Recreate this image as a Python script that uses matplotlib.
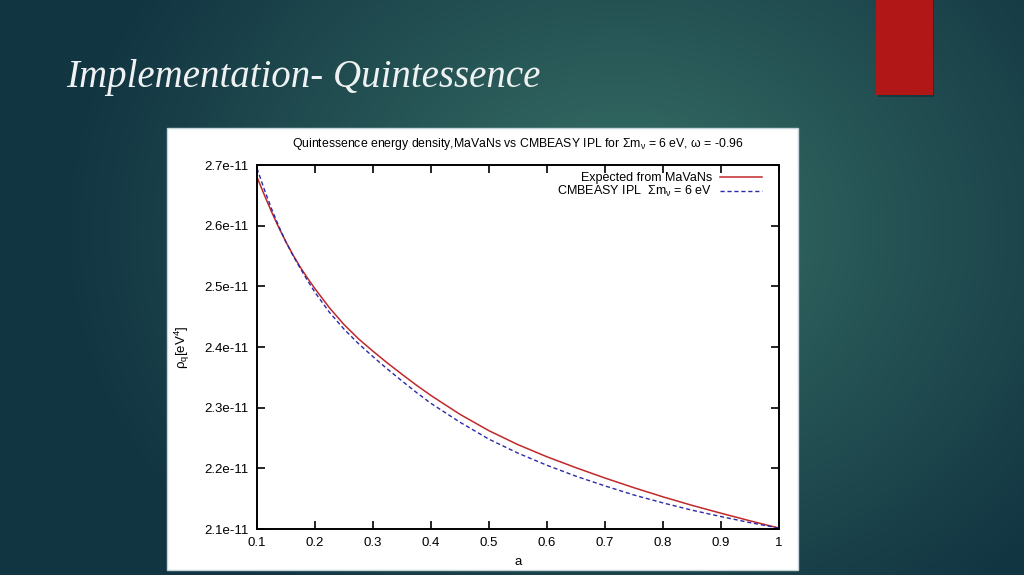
import numpy as np
import matplotlib
matplotlib.use("Agg")
import matplotlib.pyplot as plt
from matplotlib.patches import Rectangle
from matplotlib.ticker import FuncFormatter

plt.rcParams['font.family'] = ['Liberation Sans', 'DejaVu Sans']
plt.rcParams['mathtext.fontset'] = 'custom'
plt.rcParams['mathtext.rm'] = 'Liberation Sans'
plt.rcParams['mathtext.it'] = 'Liberation Sans'
plt.rcParams['mathtext.bf'] = 'Liberation Sans:bold'

# scale factor a and energy density (units of 1e-11 eV^4)
a = [0.1, 0.1125, 0.125, 0.1375, 0.15, 0.1625, 0.175, 0.1875, 0.2, 0.225, 0.25,
     0.275, 0.3, 0.325, 0.35, 0.375, 0.4, 0.45, 0.5, 0.55, 0.6, 0.65, 0.7,
     0.75, 0.8, 0.85, 0.9, 0.95, 1.0]
rho_mavans = [2.680, 2.651, 2.623, 2.597, 2.573, 2.551, 2.531, 2.513, 2.496, 2.4645, 2.437,
              2.4135, 2.393, 2.3735, 2.355, 2.337, 2.320, 2.289, 2.262, 2.239, 2.219, 2.201, 2.184,
              2.168, 2.153, 2.139, 2.126, 2.1135, 2.1015]
rho_cmbeasy = [2.6945, 2.660, 2.628, 2.599, 2.573, 2.550, 2.529, 2.509, 2.490, 2.457, 2.4295,
               2.4055, 2.384, 2.3635, 2.344, 2.325, 2.307, 2.276, 2.248, 2.225, 2.205, 2.187, 2.171,
               2.156, 2.143, 2.131, 2.1205, 2.1105, 2.1015]

x_ticks = [0.1, 0.2, 0.3, 0.4, 0.5, 0.6, 0.7, 0.8, 0.9, 1.0]
y_ticks = [2.1, 2.2, 2.3, 2.4, 2.5, 2.6, 2.7]

W, H = 1024, 575
fig = plt.figure(figsize=(W / 100, H / 100), dpi=100)

# slide background: dark teal with a lighter glow
bg = fig.add_axes([0, 0, 1, 1], zorder=-10)
yy, xx = np.mgrid[0:H, 0:W]
r = np.sqrt(((xx - 620) / 560.0) ** 2 + ((yy - 230) / 460.0) ** 2)
t = np.clip(r, 0, 1)[..., None] ** 0.85
c_in = np.array([0x3c, 0x77, 0x6a]) / 255
c_out = np.array([0x12, 0x35, 0x42]) / 255
img = c_in * (1 - t) + c_out * t
bg.imshow(img, extent=[0, W, H, 0], aspect='auto')
bg.set_xlim(0, W)
bg.set_ylim(H, 0)
bg.axis('off')

# red accent bar and slide title
bg.add_patch(Rectangle((878, 0), 56, 97, facecolor='#0d2530', alpha=0.5, edgecolor='none'))
bg.add_patch(Rectangle((876, 0), 57, 95, facecolor='#b01716', edgecolor='none'))
bg.text(66, 87, "Implementation- Quintessence", color='#eef2f2',
        fontsize=28, family='Liberation Serif', style='italic', va='baseline')

# white panel of the pasted plot
bg.add_patch(Rectangle((167, 128), 631, 442, facecolor='white', edgecolor='#c5d5da', lw=1))

ax = fig.add_axes([257 / W, 1 - 529 / H, 522 / W, 364 / H])
ax.plot(a, np.array(rho_mavans) * 1e-11, color='#c0282a', lw=1.1, label='Expected from MaVaNs')
ax.plot(a, np.array(rho_cmbeasy) * 1e-11, color='#2a2aa8', lw=1.0, ls=(0, (3, 2)),
        label=r'CMBEASY IPL  $\Sigma$m$_{\nu}$ = 6 eV')

ax.set_xlim(0.1, 1.0)
ax.set_ylim(2.1e-11, 2.7e-11)
ax.set_xticks(x_ticks)
ax.set_yticks([v * 1e-11 for v in y_ticks])
ax.xaxis.set_major_formatter(FuncFormatter(lambda v, p: f"{v:g}"))
ax.yaxis.set_major_formatter(FuncFormatter(lambda v, p: f"{v:.1e}"))
ax.tick_params(direction='in', length=6, width=1.2, top=True, right=True,
               labelsize=9.5, pad=6)
for s in ax.spines.values():
    s.set_linewidth(1.4)

ax.set_xlabel('a', fontsize=9.5, labelpad=5)
ax.set_ylabel(r'$\rho_{\mathrm{q}}$[eV$^{4}$]', fontsize=9.5, labelpad=9)
ax.set_title(r'Quintessence energy density,MaVaNs vs CMBEASY IPL for $\Sigma$m$_{\nu}$ = 6 eV, $\omega$ = -0.96',
             fontsize=8.8, pad=13)

ax.legend(loc='upper right', frameon=False, markerfirst=False, fontsize=9,
          handlelength=3.4, handletextpad=0.6, labelspacing=-0.05,
          borderaxespad=0.3, borderpad=0.3, bbox_to_anchor=(0.982, 1.0))

fig.savefig('out.png', dpi=100)
